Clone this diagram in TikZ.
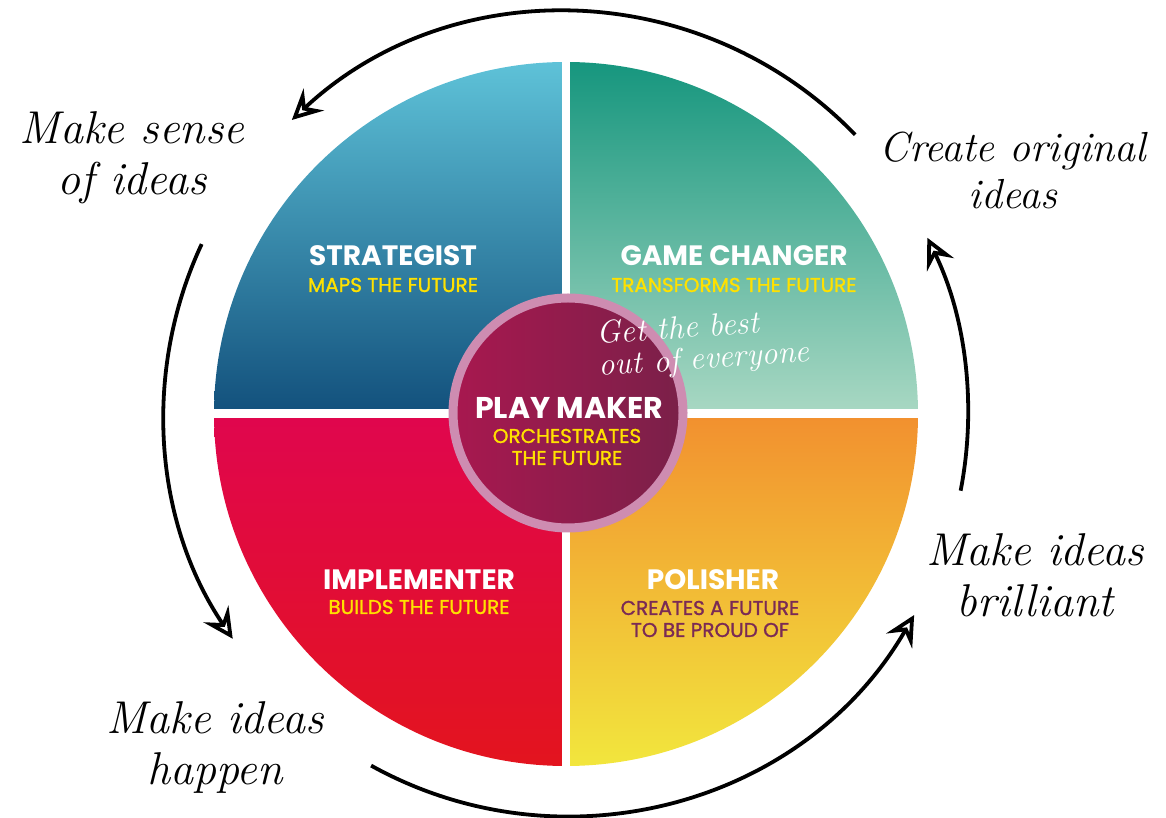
\documentclass[tikz,border=0pt]{standalone}
\usepackage{fontspec}
\usepackage{tikz}
\usetikzlibrary{arrows.meta,positioning,calc}
\newfontfamily\labelfont{Poppins}
\newfontfamily\tagfont{Poppins}[FakeBold=1.3]
\usepackage{xcolor}
\definecolor{pfStratTop}{HTML}{5EC2D8}
\definecolor{pfStratBot}{HTML}{12507C}
\definecolor{pfGameTop}{HTML}{16967E}
\definecolor{pfGameBot}{HTML}{A9D8C3}
\definecolor{pfImplTop}{HTML}{E0064E}
\definecolor{pfImplBot}{HTML}{E3141E}
\definecolor{pfPolTop}{HTML}{F2902F}
\definecolor{pfPolBot}{HTML}{F2E63D}
\definecolor{pfPlayL}{HTML}{A8184F}
\definecolor{pfPlayR}{HTML}{7A2049}
\definecolor{pfRing}{HTML}{CE8CB1}
\definecolor{pfYellow}{HTML}{FFE100}
\definecolor{pfPlum}{HTML}{7A2A55}
\tikzset{
  role/.style={text=white, font=\labelfont\bfseries\fontsize{28}{30}\selectfont, inner sep=0pt},
  tag/.style={text=pfYellow, font=\tagfont\fontsize{20}{22}\selectfont, inner sep=0pt, align=center},
  hand/.style={font=\itshape\fontsize{46}{51}\selectfont, align=center, inner sep=0pt},
  cyc/.style={line width=3.8pt, -{Stealth[open, length=30pt, width=30pt, inset=11pt, line width=3.8pt]}},
}
\begin{document}
\begin{tikzpicture}[x=1pt, y=1pt]
    \useasboundingbox (0,0) rectangle (1166,818);
    \coordinate (c) at (566,404);
    % ---------- quadrants ----------
    \begin{scope}
        \clip (c) circle (352pt);
        \shade[top color=pfStratTop, bottom color=pfStratBot] (214,404) rectangle (566,756);
        \shade[top color=pfGameTop, bottom color=pfGameBot] (566,404) rectangle (918,756);
        \shade[top color=pfImplTop, bottom color=pfImplBot] (214,52) rectangle (566,404);
        \shade[top color=pfPolTop, bottom color=pfPolBot] (566,52) rectangle (918,404);
    \end{scope}
    \draw[white, line width=8pt] ($(c)+(0,-360)$) -- ($(c)+(0,360)$);
    \draw[white, line width=9pt] ($(c)+(-360,0)$) -- ($(c)+(360,0)$);
    % ---------- play maker ----------
    \shade[left color=pfPlayL, right color=pfPlayR] (568,405) circle (115pt);
    \draw[pfRing, line width=9pt] (568,405) circle (115pt);
    \node[role, font=\labelfont\bfseries\fontsize{30}{32}\selectfont] (play) at (569,410) {PLAY MAKER};
    \node[tag] (playsub) at (567,371) {ORCHESTRATES\\THE FUTURE};
    \node[hand, text=white, rotate=4, align=left, anchor=west, font=\itshape\fontsize{32}{32}\selectfont] (best) at (598,466) {Get the best\\out of everyone};
    % ---------- roles ----------
    \node[role] (strat) at (393,562) {STRATEGIST};
    \node[tag] (stratsub) at (393,533) {MAPS THE FUTURE};
    \node[role] (game) at (734,562) {GAME CHANGER};
    \node[tag] (gamesub) at (734,533) {TRANSFORMS THE FUTURE};
    \node[role] (impl) at (419,238) {IMPLEMENTER};
    \node[tag] (implsub) at (419,211) {BUILDS THE FUTURE};
    \node[role] (pol) at (713,238) {POLISHER};
    \node[tag, text=pfPlum] (polsub) at (710,199) {CREATES A FUTURE\\TO BE PROUD OF};
    % ---------- cycle ----------
    \draw[cyc] ($(c)+(44:402pt)$) arc[start angle=44, end angle=133, radius=402pt];
    \draw[cyc] ($(c)+(155:402pt)$) arc[start angle=155, end angle=214, radius=402pt];
    \draw[cyc] ($(c)+(241:402pt)$) arc[start angle=241, end angle=330, radius=402pt];
    \draw[cyc] ($(c)+(-11:402pt)$) arc[start angle=-11, end angle=26, radius=402pt];
    \node[hand] (sense) at (132,660) {Make sense\\of ideas};
    \node[hand, font=\itshape\fontsize{42}{47}\selectfont] (create) at (1013,648) {Create original\\ideas};
    \node[hand] (brill) at (1035,243) {Make ideas\\brilliant};
    \node[hand] (happen) at (215,70) {Make ideas\\happen};
\end{tikzpicture}
\end{document}
